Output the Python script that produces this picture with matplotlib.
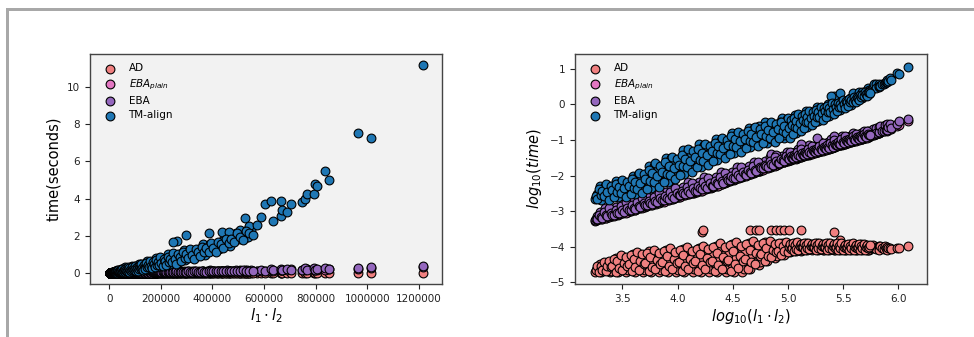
import numpy as np
import matplotlib
matplotlib.use('Agg')
import matplotlib.pyplot as plt
from matplotlib.patches import Rectangle

# ---- group A of protein pairs: log10(l1*l2) and log10(time) per method ----
log_size_a = [
    3.250, 3.265, 3.280, 3.295, 3.310, 3.325, 3.340, 3.355, 3.370, 3.385,
    3.400, 3.415, 3.430, 3.445, 3.460, 3.475, 3.490, 3.505, 3.520, 3.535,
    3.550, 3.565, 3.580, 3.595, 3.610, 3.625, 3.640, 3.655, 3.670, 3.685,
    3.700, 3.715, 3.730, 3.745, 3.760, 3.775, 3.790, 3.805, 3.820, 3.835,
    3.850, 3.865, 3.880, 3.895, 3.910, 3.925, 3.940, 3.955, 3.970, 3.985,
    4.000, 4.015, 4.030, 4.045, 4.060, 4.075, 4.090, 4.105, 4.120, 4.135,
    4.150, 4.165, 4.180, 4.195, 4.210, 4.225, 4.240, 4.255, 4.270, 4.285,
    4.300, 4.315, 4.330, 4.345, 4.360, 4.375, 4.390, 4.405, 4.420, 4.435,
    4.450, 4.465, 4.480, 4.495, 4.510, 4.525, 4.540, 4.555, 4.570, 4.585,
    4.600, 4.615, 4.630, 4.645, 4.660, 4.675, 4.690, 4.705, 4.720, 4.735,
    4.750, 4.765, 4.780, 4.795, 4.810, 4.825, 4.840, 4.855, 4.870, 4.885,
    4.900, 4.915, 4.930, 4.945, 4.960, 4.975, 4.990,
    5.000, 5.010, 5.020, 5.030, 5.040, 5.050, 5.060, 5.070, 5.080, 5.090,
    5.100, 5.110, 5.120, 5.130, 5.140, 5.150, 5.160, 5.170, 5.180, 5.190,
    5.200, 5.210, 5.220, 5.230, 5.240, 5.250, 5.260, 5.270, 5.280, 5.290,
    5.300, 5.310, 5.320, 5.330, 5.340, 5.350, 5.360, 5.370, 5.380, 5.390,
    5.400, 5.410, 5.420, 5.430, 5.440, 5.450, 5.460, 5.470, 5.480, 5.490,
    5.500, 5.510, 5.520, 5.530, 5.540, 5.550, 5.560, 5.570, 5.580, 5.590,
    5.600, 5.610, 5.620, 5.630, 5.640, 5.650, 5.660, 5.670, 5.680, 5.690,
    5.700, 5.710, 5.720, 5.730, 5.740,
    4.222, 4.232, 4.652, 4.708, 4.742, 4.842, 4.888, 4.928, 4.968, 5.012,
    5.118, 5.420, 5.262, 5.391, 5.473, 5.585, 5.642, 5.667, 5.704, 5.721,
    5.727, 5.734,
    5.757, 5.770, 5.782, 5.798, 5.802, 5.822, 5.823, 5.827, 5.838, 5.849,
    5.873, 5.879, 5.885, 5.899, 5.902, 5.905, 5.922, 5.931, 5.985, 6.007,
    6.085,
]

log_tm_a = [
    -2.65, -2.51, -2.55, -2.29, -2.68, -2.44, -2.28, -2.54, -2.36, -2.58,
    -2.60, -2.30, -2.45, -2.15, -2.61, -2.34, -2.17, -2.46, -2.25, -2.49,
    -2.51, -2.18, -2.33, -2.01, -2.51, -2.19, -1.98, -2.31, -2.05, -2.34,
    -2.36, -1.95, -2.15, -1.72, -2.36, -1.97, -1.72, -2.12, -1.82, -2.15,
    -2.17, -1.73, -1.94, -1.50, -2.17, -1.76, -1.51, -1.91, -1.63, -1.95,
    -1.97, -1.53, -1.74, -1.29, -1.96, -1.55, -1.30, -1.70, -1.41, -1.74,
    -1.76, -1.33, -1.54, -1.12, -1.76, -1.38, -1.15, -1.53, -1.26, -1.56,
    -1.57, -1.18, -1.36, -0.97, -1.57, -1.21, -0.99, -1.34, -1.09, -1.37,
    -1.38, -1.00, -1.17, -0.80, -1.36, -1.02, -0.82, -1.16, -0.92, -1.19,
    -1.21, -0.84, -1.02, -0.65, -1.21, -0.88, -0.67, -1.01, -0.77, -1.04,
    -1.06, -0.70, -0.88, -0.50, -1.08, -0.74, -0.54, -0.88, -0.63, -0.91,
    -0.93, -0.57, -0.75, -0.39, -0.95, -0.62, -0.42,
    -0.76, -0.53, -0.80, -0.81, -0.46, -0.63, -0.29, -0.80, -0.50, -0.32,
    -0.61, -0.40, -0.63, -0.65, -0.34, -0.48, -0.19, -0.63, -0.37, -0.20,
    -0.46, -0.27, -0.48, -0.48, -0.22, -0.34, -0.08, -0.47, -0.24, -0.09,
    -0.32, -0.16, -0.34, -0.34, -0.10, -0.21, 0.02, -0.32, -0.12, 0.01,
    -0.19, -0.04, -0.20, -0.20, 0.01, -0.09, 0.10, -0.16, 0.00, 0.10,
    -0.05, 0.07, -0.05, -0.04, 0.11, 0.05, 0.19, -0.01, 0.12, 0.20,
    0.09, 0.18, 0.11, 0.12, 0.24, 0.20, 0.30, 0.17, 0.27, 0.33,
    0.26, 0.32, 0.28, 0.29, 0.37,
    -1.45, -1.20, -0.95, -0.80, -0.60, -0.98, -0.72, -0.48, -0.85, -0.70,
    -0.50, 0.24, -0.30, 0.23, 0.31, 0.33, 0.35, 0.35, 0.37, 0.47,
    0.37, 0.40,
    0.41, 0.48, 0.57, 0.59, 0.45, 0.59, 0.49, 0.53, 0.52, 0.57,
    0.58, 0.60, 0.63, 0.63, 0.68, 0.67, 0.74, 0.70, 0.875, 0.86,
    1.047,
]

log_eba_a = [
    -3.24, -3.14, -3.22, -3.03, -3.16, -3.16, -2.91, -3.10, -3.14, -2.99,
    -3.11, -2.99, -3.09, -2.88, -3.04, -3.03, -2.73, -2.96, -3.01, -2.83,
    -2.98, -2.84, -2.96, -2.72, -2.89, -2.90, -2.60, -2.82, -2.88, -2.70,
    -2.84, -2.72, -2.82, -2.60, -2.77, -2.76, -2.48, -2.69, -2.74, -2.57,
    -2.71, -2.58, -2.69, -2.47, -2.63, -2.63, -2.33, -2.55, -2.61, -2.43,
    -2.57, -2.44, -2.55, -2.32, -2.49, -2.49, -2.19, -2.42, -2.47, -2.29,
    -2.44, -2.30, -2.42, -2.18, -2.35, -2.36, -2.04, -2.27, -2.34, -2.15,
    -2.30, -2.17, -2.28, -2.04, -2.21, -2.22, -1.90, -2.13, -2.19, -2.00,
    -2.15, -2.01, -2.12, -1.89, -2.05, -2.05, -1.75, -1.97, -2.02, -1.85,
    -1.98, -1.85, -1.96, -1.74, -1.90, -1.89, -1.62, -1.81, -1.86, -1.70,
    -1.82, -1.70, -1.79, -1.59, -1.73, -1.73, -1.47, -1.65, -1.69, -1.54,
    -1.65, -1.54, -1.63, -1.44, -1.56, -1.57, -1.33,
    -1.50, -1.54, -1.41, -1.51, -1.42, -1.50, -1.33, -1.46, -1.47, -1.24,
    -1.41, -1.45, -1.32, -1.42, -1.33, -1.42, -1.25, -1.37, -1.38, -1.15,
    -1.32, -1.36, -1.23, -1.33, -1.24, -1.33, -1.15, -1.28, -1.29, -1.05,
    -1.22, -1.27, -1.13, -1.24, -1.15, -1.24, -1.06, -1.19, -1.20, -0.97,
    -1.14, -1.18, -1.05, -1.15, -1.06, -1.14, -0.97, -1.09, -1.10, -0.89,
    -1.04, -1.08, -0.96, -1.06, -0.97, -1.05, -0.89, -1.01, -1.01, -0.81,
    -0.95, -0.99, -0.88, -0.97, -0.88, -0.96, -0.81, -0.92, -0.92, -0.74,
    -0.87, -0.90, -0.80, -0.88, -0.80,
    -2.37, -2.33, -1.92, -1.85, -1.83, -1.38, -1.42, -1.62, -1.58, -1.54,
    -1.10, -0.90, -0.95, -1.18, -1.10, -1.00, -0.95, -0.93, -0.89, -0.86,
    -0.75, -0.87,
    -0.84, -0.70, -0.82, -0.66, -0.80, -0.78, -0.62, -0.77, -0.60, -0.76,
    -0.74, -0.58, -0.72, -0.56, -0.71, -0.62, -0.55, -0.66, -0.55, -0.46,
    -0.42,
]

log_plain_a = [
    -3.27, -3.22, -3.23, -3.13, -3.22, -3.06, -3.17, -3.19, -3.09, -3.15,
    -3.15, -3.09, -3.10, -3.01, -3.10, -2.93, -3.04, -3.06, -2.96, -3.02,
    -3.02, -2.95, -2.97, -2.87, -2.96, -2.80, -2.91, -2.92, -2.83, -2.88,
    -2.88, -2.82, -2.83, -2.74, -2.83, -2.66, -2.77, -2.79, -2.69, -2.75,
    -2.75, -2.68, -2.70, -2.60, -2.69, -2.53, -2.63, -2.65, -2.56, -2.61,
    -2.61, -2.55, -2.56, -2.47, -2.56, -2.39, -2.50, -2.52, -2.42, -2.48,
    -2.48, -2.41, -2.43, -2.33, -2.42, -2.26, -2.37, -2.38, -2.29, -2.34,
    -2.34, -2.28, -2.29, -2.20, -2.28, -2.12, -2.23, -2.23, -2.14, -2.19,
    -2.19, -2.12, -2.13, -2.04, -2.12, -1.95, -2.07, -2.07, -1.97, -2.03,
    -2.02, -1.95, -1.97, -1.87, -1.96, -1.79, -1.92, -1.90, -1.81, -1.86,
    -1.86, -1.79, -1.80, -1.71, -1.79, -1.62, -1.76, -1.74, -1.64, -1.70,
    -1.69, -1.62, -1.64, -1.55, -1.62, -1.46, -1.59,
    -1.59, -1.49, -1.56, -1.55, -1.49, -1.51, -1.42, -1.52, -1.36, -1.50,
    -1.49, -1.40, -1.46, -1.46, -1.40, -1.43, -1.34, -1.43, -1.27, -1.41,
    -1.40, -1.31, -1.37, -1.37, -1.31, -1.34, -1.25, -1.34, -1.18, -1.32,
    -1.31, -1.22, -1.28, -1.28, -1.22, -1.25, -1.16, -1.25, -1.09, -1.23,
    -1.22, -1.13, -1.19, -1.19, -1.13, -1.15, -1.07, -1.15, -0.99, -1.13,
    -1.12, -1.03, -1.10, -1.09, -1.03, -1.06, -0.98, -1.06, -0.91, -1.04,
    -1.03, -0.94, -1.01, -1.00, -0.94, -0.97, -0.89, -0.97, -0.82, -0.95,
    -0.94, -0.85, -0.92, -0.91, -0.86,
    -2.40, -2.37, -1.95, -1.88, -1.86, -1.75, -1.70, -1.65, -1.61, -1.57,
    -1.47, -1.20, -1.35, -1.22, -1.14, -1.03, -0.98, -0.96, -0.92, -0.90,
    -0.88, -0.89,
    -0.87, -0.85, -0.85, -0.84, -0.83, -0.81, -0.80, -0.80, -0.78, -0.68,
    -0.76, -0.73, -0.65, -0.72, -0.74, -0.70, -0.70, -0.68, -0.60, -0.58,
    -0.47,
]

log_ad_a = [
    -4.70, -4.60, -4.65, -4.49, -4.72, -4.58, -4.47, -4.65, -4.52, -4.71,
    -4.68, -4.46, -4.59, -4.31, -4.72, -4.50, -4.34, -4.62, -4.43, -4.71,
    -4.66, -4.38, -4.55, -4.20, -4.72, -4.45, -4.27, -4.60, -4.38, -4.71,
    -4.66, -4.34, -4.53, -4.13, -4.72, -4.42, -4.22, -4.59, -4.35, -4.71,
    -4.65, -4.30, -4.51, -4.08, -4.72, -4.40, -4.18, -4.58, -4.32, -4.71,
    -4.65, -4.28, -4.50, -4.06, -4.72, -4.39, -4.17, -4.57, -4.30, -4.70,
    -4.64, -4.26, -4.49, -4.03, -4.72, -4.36, -4.13, -4.56, -4.27, -4.70,
    -4.64, -4.23, -4.47, -3.97, -4.72, -4.34, -4.08, -4.55, -4.24, -4.70,
    -4.63, -4.19, -4.45, -3.92, -4.72, -4.32, -4.05, -4.54, -4.22, -4.70,
    -4.63, -4.16, -4.42, -3.89, -4.64, -4.25, -4.00, -4.42, -4.14, -4.51,
    -4.43, -4.08, -4.26, -3.88, -4.41, -4.13, -3.97, -4.25, -4.06, -4.31,
    -4.25, -4.02, -4.14, -3.89, -4.23, -4.05, -3.94,
    -4.12, -4.00, -4.16, -4.13, -3.98, -4.06, -3.89, -4.13, -4.01, -3.93,
    -4.06, -3.98, -4.11, -4.08, -3.96, -4.03, -3.90, -4.09, -3.99, -3.93,
    -4.04, -3.97, -4.08, -4.07, -3.96, -4.03, -3.91, -4.09, -3.99, -3.93,
    -4.06, -3.98, -4.10, -4.08, -3.97, -4.03, -3.90, -4.10, -4.00, -3.94,
    -4.06, -3.98, -4.10, -4.08, -3.98, -4.04, -3.92, -4.10, -4.00, -3.95,
    -4.06, -3.99, -4.10, -4.08, -3.98, -4.04, -3.92, -4.10, -4.01, -3.95,
    -4.06, -3.99, -4.10, -4.08, -3.98, -4.04, -3.92, -4.10, -4.01, -3.96,
    -4.06, -3.99, -4.10, -4.08, -3.98,
    -3.58, -3.53, -3.53, -3.53, -3.53, -3.53, -3.53, -3.53, -3.53, -3.53,
    -3.53, -3.58, -3.95, -4.05, -3.82, -4.02, -4.05, -3.95, -4.03, -4.08,
    -3.97, -4.05,
    -4.02, -3.96, -4.05, -4.00, -4.07, -3.97, -4.04, -4.08, -3.98, -4.03,
    -4.06, -3.99, -4.04, -4.09, -4.00, -4.05, -4.03, -4.07, -4.05, -4.03,
    -3.98,
]

# ---- group B of protein pairs ----
log_size_b = [
    3.258, 3.273, 3.288, 3.303, 3.318, 3.333, 3.348, 3.363, 3.378, 3.393,
    3.408, 3.423, 3.438, 3.453, 3.468, 3.483, 3.498, 3.513, 3.528, 3.543,
    3.558, 3.573, 3.588, 3.603, 3.618, 3.633, 3.648, 3.663, 3.678, 3.693,
    3.708, 3.723, 3.738, 3.753, 3.768, 3.783, 3.798, 3.813, 3.828, 3.843,
    3.858, 3.873, 3.888, 3.903, 3.918, 3.933, 3.948, 3.963, 3.978, 3.993,
    4.008, 4.023, 4.038, 4.053, 4.068, 4.083, 4.098, 4.113, 4.128, 4.143,
    4.158, 4.173, 4.188, 4.203, 4.218, 4.233, 4.248, 4.263, 4.278, 4.293,
    4.308, 4.323, 4.338, 4.353, 4.368, 4.383, 4.398, 4.413, 4.428, 4.443,
    4.458, 4.473, 4.488, 4.503, 4.518, 4.533, 4.548, 4.563, 4.578, 4.593,
    4.608, 4.623, 4.638, 4.653, 4.668, 4.683, 4.698, 4.713, 4.728, 4.743,
    4.758, 4.773, 4.788, 4.803, 4.818, 4.833, 4.848, 4.863, 4.878, 4.893,
    4.908, 4.923, 4.938, 4.953, 4.968, 4.983, 4.998,
    5.005, 5.015, 5.025, 5.035, 5.045, 5.055, 5.065, 5.075, 5.085, 5.095,
    5.105, 5.115, 5.125, 5.135, 5.145, 5.155, 5.165, 5.175, 5.185, 5.195,
    5.205, 5.215, 5.225, 5.235, 5.245, 5.255, 5.265, 5.275, 5.285, 5.295,
    5.305, 5.315, 5.325, 5.335, 5.345, 5.355, 5.365, 5.375, 5.385, 5.395,
    5.405, 5.415, 5.425, 5.435, 5.445, 5.455, 5.465, 5.475, 5.485, 5.495,
    5.505, 5.515, 5.525, 5.535, 5.545, 5.555, 5.565, 5.575, 5.585, 5.595,
    5.605, 5.615, 5.625, 5.635, 5.645, 5.655, 5.665, 5.675, 5.685, 5.695,
    5.705, 5.715, 5.725, 5.735, 5.745,
]

log_tm_b = [
    -2.58, -2.66, -2.39, -2.54, -2.42, -2.58, -2.25, -2.46, -2.69, -2.29,
    -2.41, -2.61, -2.23, -2.46, -2.32, -2.50, -2.13, -2.36, -2.60, -2.17,
    -2.30, -2.51, -2.10, -2.35, -2.18, -2.37, -1.93, -2.20, -2.49, -1.95,
    -2.10, -2.37, -1.84, -2.15, -1.94, -2.19, -1.66, -2.00, -2.32, -1.72,
    -1.90, -2.18, -1.62, -1.95, -1.73, -1.98, -1.47, -1.79, -2.11, -1.53,
    -1.69, -1.97, -1.42, -1.74, -1.52, -1.77, -1.25, -1.58, -1.90, -1.31,
    -1.49, -1.77, -1.24, -1.55, -1.36, -1.59, -1.11, -1.41, -1.71, -1.16,
    -1.32, -1.58, -1.08, -1.36, -1.18, -1.40, -0.95, -1.23, -1.51, -1.00,
    -1.14, -1.38, -0.90, -1.17, -0.97, -1.21, -0.77, -1.03, -1.33, -0.83,
    -0.98, -1.22, -0.75, -1.03, -0.84, -1.06, -0.63, -0.91, -1.18, -0.69,
    -0.83, -1.08, -0.61, -0.89, -0.71, -0.93, -0.50, -0.77, -1.05, -0.55,
    -0.70, -0.94, -0.49, -0.76, -0.60, -0.81, -0.38,
    -0.66, -0.93, -0.45, -0.59, -0.82, -0.38, -0.64, -0.47, -0.66, -0.28,
    -0.52, -0.75, -0.33, -0.45, -0.65, -0.27, -0.48, -0.35, -0.50, -0.17,
    -0.38, -0.58, -0.21, -0.32, -0.48, -0.16, -0.34, -0.22, -0.36, -0.07,
    -0.25, -0.43, -0.10, -0.19, -0.34, -0.05, -0.21, -0.10, -0.22, 0.04,
    -0.12, -0.28, 0.01, -0.07, -0.19, 0.05, -0.08, 0.01, -0.08, 0.12,
    0.00, -0.11, 0.11, 0.06, -0.04, 0.15, 0.06, 0.13, 0.06, 0.21,
    0.13, 0.06, 0.22, 0.19, 0.14, 0.27, 0.21, 0.27, 0.23, 0.34,
    0.29, 0.25, 0.36, 0.34, 0.31,
]

log_eba_b = [
    -3.23, -3.23, -3.12, -3.17, -3.19, -3.02, -3.12, -3.15, -2.92, -3.05,
    -3.10, -3.10, -2.98, -3.04, -3.06, -2.86, -2.97, -3.02, -2.75, -2.90,
    -2.96, -2.97, -2.84, -2.90, -2.93, -2.74, -2.85, -2.89, -2.62, -2.77,
    -2.83, -2.83, -2.71, -2.77, -2.79, -2.61, -2.71, -2.75, -2.50, -2.63,
    -2.69, -2.70, -2.58, -2.63, -2.66, -2.46, -2.57, -2.62, -2.35, -2.50,
    -2.56, -2.56, -2.44, -2.50, -2.52, -2.32, -2.44, -2.48, -2.21, -2.36,
    -2.42, -2.43, -2.30, -2.36, -2.39, -2.18, -2.30, -2.35, -2.06, -2.22,
    -2.28, -2.29, -2.16, -2.22, -2.25, -2.04, -2.16, -2.20, -1.92, -2.07,
    -2.13, -2.13, -2.00, -2.06, -2.08, -1.89, -1.99, -2.03, -1.77, -1.91,
    -1.96, -1.97, -1.85, -1.90, -1.92, -1.74, -1.83, -1.87, -1.63, -1.75,
    -1.80, -1.80, -1.69, -1.74, -1.75, -1.59, -1.68, -1.70, -1.48, -1.60,
    -1.64, -1.64, -1.54, -1.57, -1.59, -1.44, -1.51,
    -1.54, -1.35, -1.46, -1.50, -1.51, -1.41, -1.46, -1.48, -1.34, -1.43,
    -1.46, -1.26, -1.37, -1.41, -1.42, -1.33, -1.37, -1.39, -1.25, -1.33,
    -1.37, -1.17, -1.28, -1.32, -1.33, -1.24, -1.28, -1.30, -1.16, -1.24,
    -1.28, -1.07, -1.19, -1.23, -1.24, -1.15, -1.19, -1.22, -1.07, -1.15,
    -1.19, -0.99, -1.10, -1.14, -1.15, -1.06, -1.10, -1.12, -0.98, -1.06,
    -1.09, -0.90, -1.00, -1.04, -1.05, -0.97, -1.01, -1.03, -0.90, -0.97,
    -1.00, -0.82, -0.92, -0.95, -0.96, -0.89, -0.92, -0.94, -0.82, -0.88,
    -0.91, -0.75, -0.84, -0.87, -0.87,
]

log_plain_b = [
    -3.26, -3.26, -3.12, -3.19, -3.22, -3.12, -3.19, -3.03, -3.17, -3.11,
    -3.13, -3.13, -3.00, -3.07, -3.09, -3.00, -3.05, -2.90, -3.04, -2.98,
    -2.99, -3.00, -2.86, -2.93, -2.96, -2.87, -2.92, -2.77, -2.90, -2.84,
    -2.86, -2.86, -2.73, -2.80, -2.82, -2.73, -2.78, -2.63, -2.77, -2.70,
    -2.72, -2.73, -2.59, -2.66, -2.69, -2.59, -2.65, -2.50, -2.63, -2.57,
    -2.59, -2.59, -2.46, -2.53, -2.55, -2.46, -2.51, -2.36, -2.50, -2.44,
    -2.45, -2.46, -2.32, -2.39, -2.42, -2.32, -2.38, -2.23, -2.36, -2.30,
    -2.31, -2.32, -2.19, -2.25, -2.28, -2.18, -2.24, -2.08, -2.21, -2.15,
    -2.16, -2.16, -2.03, -2.09, -2.11, -2.02, -2.07, -1.91, -2.05, -1.98,
    -1.99, -2.00, -1.86, -1.93, -1.95, -1.85, -1.90, -1.75, -1.88, -1.81,
    -1.83, -1.83, -1.70, -1.76, -1.78, -1.69, -1.74, -1.58, -1.72, -1.65,
    -1.66, -1.67, -1.53, -1.59, -1.62, -1.52, -1.57,
    -1.42, -1.57, -1.51, -1.53, -1.54, -1.41, -1.48, -1.51, -1.42, -1.49,
    -1.34, -1.48, -1.42, -1.44, -1.45, -1.32, -1.39, -1.42, -1.33, -1.40,
    -1.25, -1.39, -1.33, -1.35, -1.36, -1.23, -1.30, -1.33, -1.24, -1.30,
    -1.16, -1.30, -1.24, -1.26, -1.27, -1.14, -1.21, -1.25, -1.16, -1.22,
    -1.07, -1.21, -1.15, -1.17, -1.18, -1.05, -1.12, -1.15, -1.06, -1.12,
    -0.97, -1.11, -1.04, -1.07, -1.08, -0.96, -1.03, -1.06, -0.97, -1.03,
    -0.88, -1.02, -0.96, -0.97, -0.99, -0.87, -0.94, -0.97, -0.88, -0.94,
    -0.79, -0.93, -0.87, -0.89, -0.90,
]

log_ad_b = [
    -4.65, -4.54, -4.71, -4.54, -4.65, -4.42, -4.68, -4.54, -4.41, -4.58,
    -4.55, -4.34, -4.70, -4.41, -4.60, -4.24, -4.66, -4.46, -4.29, -4.53,
    -4.50, -4.24, -4.69, -4.34, -4.57, -4.15, -4.65, -4.41, -4.22, -4.50,
    -4.47, -4.18, -4.69, -4.30, -4.56, -4.09, -4.64, -4.38, -4.18, -4.48,
    -4.44, -4.12, -4.68, -4.26, -4.54, -4.04, -4.63, -4.36, -4.14, -4.46,
    -4.43, -4.10, -4.68, -4.24, -4.53, -4.01, -4.63, -4.34, -4.11, -4.45,
    -4.41, -4.07, -4.68, -4.21, -4.52, -3.97, -4.62, -4.32, -4.07, -4.43,
    -4.39, -4.01, -4.68, -4.17, -4.51, -3.91, -4.62, -4.29, -4.02, -4.41,
    -4.37, -3.96, -4.68, -4.13, -4.49, -3.86, -4.61, -4.26, -3.98, -4.40,
    -4.35, -3.93, -4.63, -4.10, -4.42, -3.84, -4.50, -4.18, -3.95, -4.27,
    -4.22, -3.91, -4.41, -4.03, -4.26, -3.85, -4.30, -4.09, -3.93, -4.15,
    -4.11, -3.91, -4.23, -3.99, -4.13, -3.87, -4.14,
    -4.02, -3.92, -4.06, -4.04, -3.91, -4.13, -3.96, -4.07, -3.88, -4.09,
    -3.99, -3.92, -4.02, -4.01, -3.90, -4.08, -3.95, -4.04, -3.89, -4.06,
    -3.98, -3.92, -4.01, -4.00, -3.91, -4.08, -3.95, -4.04, -3.89, -4.07,
    -3.99, -3.92, -4.02, -4.01, -3.91, -4.09, -3.96, -4.05, -3.89, -4.07,
    -3.99, -3.92, -4.03, -4.02, -3.91, -4.09, -3.97, -4.05, -3.91, -4.08,
    -4.00, -3.94, -4.03, -4.02, -3.93, -4.09, -3.97, -4.05, -3.91, -4.08,
    -4.00, -3.94, -4.03, -4.02, -3.93, -4.09, -3.97, -4.05, -3.92, -4.08,
    -4.01, -3.95, -4.03, -4.02, -3.94,
]

methods = ['AD', r'$EBA_{plain}$', 'EBA', 'TM-align']
colors = ['#F08080', '#E377C2', '#9467BD', '#1F77B4']
left_xticks = [0, 200000, 400000, 600000, 800000, 1000000, 1200000]
left_yticks = [0, 2, 4, 6, 8, 10]
right_xticks = [3.5, 4.0, 4.5, 5.0, 5.5, 6.0]
right_yticks = [-5, -4, -3, -2, -1, 0, 1]

groups_a = [log_size_a, log_tm_a, log_eba_a, log_plain_a, log_ad_a]
groups_b = [log_size_b, log_tm_b, log_eba_b, log_plain_b, log_ad_b]
assert len(set(len(g) for g in groups_a)) == 1, [len(g) for g in groups_a]
assert len(set(len(g) for g in groups_b)) == 1, [len(g) for g in groups_b]

log_size = np.array(log_size_a + log_size_b)
series = [np.array(log_ad_a + log_ad_b), np.array(log_plain_a + log_plain_b),
          np.array(log_eba_a + log_eba_b), np.array(log_tm_a + log_tm_b)]
size = np.power(10.0, log_size)

fig = plt.figure(figsize=(9.74, 3.37), dpi=100)
fig.patch.set_facecolor('white')

# screenshot frame lines
fig.add_artist(Rectangle((6 / 974, (337 - 10.5) / 337), 1 - 6 / 974, 3 / 337,
                         transform=fig.transFigure, facecolor='#a8a8a8',
                         edgecolor='none'))
fig.add_artist(Rectangle((6 / 974, 0), 3 / 974, (337 - 7.5) / 337,
                         transform=fig.transFigure, facecolor='#a8a8a8',
                         edgecolor='none'))

ax1 = fig.add_axes([90 / 974, 53 / 337, 352 / 974, 230 / 337])
ax2 = fig.add_axes([575 / 974, 53 / 337, 352 / 974, 230 / 337])

for lab, col, ly in zip(methods, colors, series):
    ax1.scatter(size, np.power(10.0, ly), s=40, c=col, edgecolors='black',
                linewidths=0.8, label=lab, zorder=2)
    ax2.scatter(np.log10(size), ly, s=40, c=col, edgecolors='black',
                linewidths=0.8, label=lab, zorder=2)

for ax in (ax1, ax2):
    ax.set_facecolor('#f2f2f2')
    for sp in ax.spines.values():
        sp.set_color('#444444')
        sp.set_linewidth(1.0)
    ax.tick_params(labelsize=7.5, colors='#222222', length=3.5, width=0.8)
    ax.legend(loc='upper left', frameon=False, fontsize=7.5, labelspacing=0.4)

ax1.set_xlim(-75000, 1290000)
ax1.set_ylim(-0.57, 11.75)
ax1.set_xticks(left_xticks)
ax1.set_yticks(left_yticks)
ax1.ticklabel_format(style='plain', axis='x', useOffset=False)
ax1.set_xlabel(r'$l_1 \cdot l_2$', fontsize=10.5, labelpad=2)
ax1.set_ylabel('time(seconds)', fontsize=10.5)

ax2.set_xlim(3.07, 6.26)
ax2.set_ylim(-5.05, 1.42)
ax2.set_xticks(right_xticks)
ax2.set_yticks(right_yticks)
ax2.set_xlabel(r'$log_{10}(l_1 \cdot l_2)$', fontsize=10.5, labelpad=2)
ax2.set_ylabel(r'$log_{10}(time)$', fontsize=10.5)

fig.savefig('out.png', dpi=100, facecolor='white')
